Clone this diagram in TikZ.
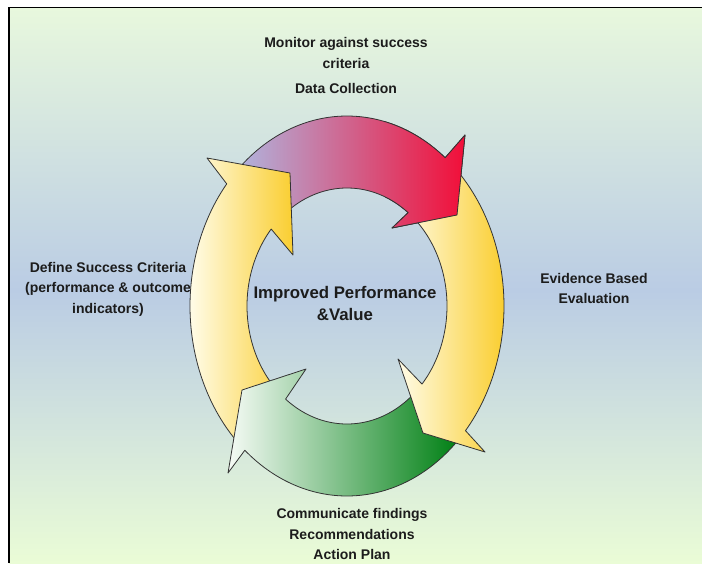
\documentclass[tikz,border=0pt]{standalone}
\usepackage{fontspec}
\setmainfont{Liberation Sans}
\definecolor{bgtop}{RGB}{232,248,221}
\definecolor{bgmid}{RGB}{186,204,228}
\definecolor{bgbot}{RGB}{234,252,214}
\definecolor{txt}{RGB}{28,28,28}
\definecolor{lav}{RGB}{176,180,222}
\definecolor{pinkm}{RGB}{214,112,152}
\definecolor{redr}{RGB}{242,14,56}
\definecolor{cream}{RGB}{255,252,232}
\definecolor{gold}{RGB}{250,206,48}
\definecolor{paleg}{RGB}{246,251,246}
\definecolor{darkg}{RGB}{0,128,20}
\begin{document}
\begin{tikzpicture}[x=1pt,y=-1pt]
\def\cx{347}\def\cy{306}
\def\Rx{157}\def\Ry{190}\def\rx{100}\def\ry{118}
\tikzset{
  arrowline/.style={draw=black!80, line width=0.8pt, line join=round},
  lbl/.style={text=txt, font=\fontsize{14}{20.5}\selectfont\bfseries, align=center, inner sep=0pt},
  ctr/.style={text=txt, font=\fontsize{16.8}{22}\selectfont\bfseries, align=center, inner sep=0pt},
  redarrow/.style={arrowline, left color=lav, middle color=pinkm, right color=redr},
  yelarrow/.style={arrowline, left color=cream, right color=gold},
  grnarrow/.style={arrowline, left color=paleg, right color=darkg}
}
\useasboundingbox (0,0) rectangle (702,563);
% background
\fill[white] (0,0) rectangle (702,563);
\shade[top color=bgtop, bottom color=bgmid] (9,7) rectangle (702,290.5);
\shade[top color=bgmid, bottom color=bgbot] (9,290) rectangle (702,563);
\draw[line width=1.5pt, black] (9,563) -- (9,7.5) -- (702,7.5);
% labels
\node[lbl] (mon) at (346,53) {Monitor against success\\criteria};
\node[lbl] (datac) at (346,88) {Data Collection};
\node[lbl] (define) at (108,289) {Define Success Criteria\\(performance \& outcome\\indicators)};
\node[lbl] (evid) at (594,288.5) {Evidence Based\\Evaluation};
\node[lbl] (comm) at (352,534) {Communicate findings\\Recommendations\\Action Plan};
% arrows (each head lies over the tail of the next arrow)
\def\redpath{
  plot[domain=134:51.3, samples=70] ({\cx+\Rx*cos(\x)},{\cy-\Ry*sin(\x)})
  -- (465,135) -- (457,215) -- (392,228)
  -- plot[domain=52.3:128, samples=70] ({\cx+\rx*cos(\x)},{\cy-\ry*sin(\x)})
  -- cycle}
\draw[redarrow] \redpath;
\draw[yelarrow]
  plot[domain=-134:-220, samples=70] ({\cx+\Rx*cos(\x)},{\cy-\Ry*sin(\x)})
  -- (207,158) -- (290,173) -- (293,255)
  -- plot[domain=-220.7:-136, samples=70] ({\cx+\rx*cos(\x)},{\cy-\ry*sin(\x)})
  -- cycle;
\draw[grnarrow]
  plot[domain=-45:-130.6, samples=70] ({\cx+\Rx*cos(\x)},{\cy-\Ry*sin(\x)})
  -- (228,473) -- (242,390) -- (306,369)
  -- plot[domain=-127.9:-48, samples=70] ({\cx+\rx*cos(\x)},{\cy-\ry*sin(\x)})
  -- cycle;
\draw[yelarrow]
  plot[domain=48:-41, samples=70] ({\cx+\Rx*cos(\x)},{\cy-\Ry*sin(\x)})
  -- (485,452) -- (423,433) -- (398,359)
  -- plot[domain=-41.4:50, samples=70] ({\cx+\rx*cos(\x)},{\cy-\ry*sin(\x)})
  -- cycle;
\begin{scope}
  \clip (385,100) rectangle (520,245);
  \draw[redarrow] \redpath;
\end{scope}
\node[ctr] (center) at (345,303) {Improved Performance\\\&Value};
\end{tikzpicture}
\end{document}
